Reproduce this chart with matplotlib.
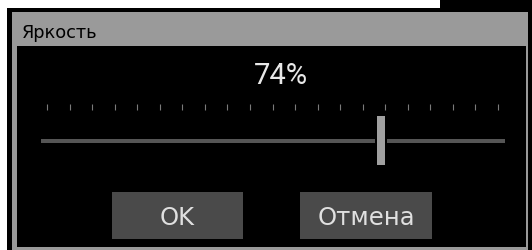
import matplotlib
matplotlib.use("Agg")
import matplotlib.pyplot as plt
from matplotlib.patches import Rectangle

# dialog content
title = "Яркость"
brightness = 74            # percent
tick_values = list(range(0, 101, 5))
buttons = ["OK", "Отмена"]

W, H = 532, 251
fig = plt.figure(figsize=(W / 100, H / 100), dpi=100)
fig.patch.set_facecolor("white")

# main axes in pixel coordinates (y down)
ax = fig.add_axes([0, 0, 1, 1])
ax.set_xlim(0, W)
ax.set_ylim(H, 0)
ax.axis("off")

def rect(x0, y0, x1, y1, color):
    ax.add_patch(Rectangle((x0, y0), x1 - x0, y1 - y0, color=color, lw=0))

# window frame
rect(7, 9, W, H, "black")
rect(440, 0, W, 9, "black")
rect(12, 13, 528, H, "#9a9a9a")
rect(17, 47, 526, 248, "black")
ax.text(22, 38, title, fontsize=12.8, color="black", family="DejaVu Sans")

# percentage label
ax.text(280.5, 84, f"{brightness}%", fontsize=21, color="#e8e8e8",
        family="Roboto", ha="center")

# slider axes: value scale 0..100 mapped to tick span
x0, x1 = 47, 498
y_top, y_bot = 100, 170
axs = fig.add_axes([x0 / W, (H - y_bot) / H, (x1 - x0) / W, (y_bot - y_top) / H])
axs.set_xlim(0, 100)
axs.set_ylim(y_bot, y_top)
axs.axis("off")
axs.patch.set_alpha(0)

px = 100 / (x1 - x0)   # data units per pixel
for v in tick_values:
    axs.plot([v, v], [105, 111], color="#7a7a7a", lw=0.8,
             solid_capstyle="butt", clip_on=False)

gap = 6 * px
half = 4.2 * px
left = -6 * px
right = 100 + 7 * px
axs.add_patch(Rectangle((left, 140), brightness - gap - left, 3.5,
                        color="#555555", lw=0, clip_on=False))
axs.add_patch(Rectangle((brightness + gap, 140), right - (brightness + gap), 3.5,
                        color="#555555", lw=0, clip_on=False))
axs.add_patch(Rectangle((brightness - half, 117), 2 * half, 49,
                        color="#a0a0a0", lw=0, clip_on=False))

# buttons
btn_x = [(112, 243), (300, 432)]
for (bx0, bx1), label in zip(btn_x, buttons):
    rect(bx0, 193, bx1, 240, "#4a4a4a")
    ax.text((bx0 + bx1) / 2, 225, label, fontsize=17.5, color="#e0e0e0",
            family="DejaVu Sans", ha="center")

fig.savefig("out.png", dpi=100, facecolor=fig.get_facecolor())
